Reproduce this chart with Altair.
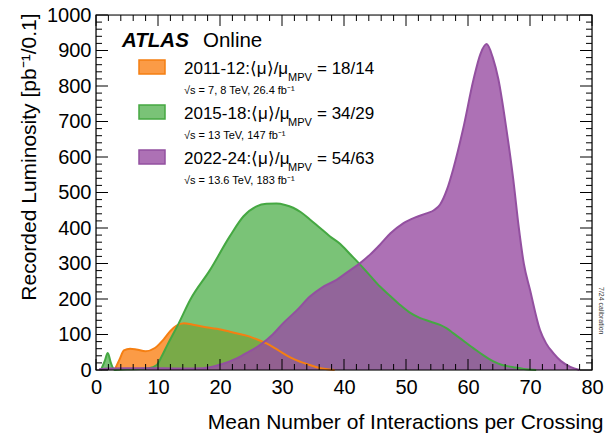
import altair as alt
import pandas as pd

# ---------------- data ----------------
orange_x = [3.0, 3.8, 4.5, 5.5, 6.5, 8.0, 9.5, 11.0, 12.0, 13.0, 14.2, 15.5, 17.3, 19.5, 21.6,
            23.5, 24.8, 26.0, 27.5, 29.0, 30.2, 31.5, 33.0, 34.5, 35.6, 37.0, 38.5]
orange_y = [0, 30, 55, 60, 58, 53, 62, 88, 110, 125, 132, 128, 122, 116, 108,
            100, 94, 86, 75, 60, 47, 34, 23, 14, 8, 3, 0]

green_x = [0.8, 1.4, 1.9, 2.4, 3.0, 5.0, 7.0, 8.5, 9.8, 10.5, 11.5, 12.4, 13.3, 15.2, 18.4, 21.6,
           23.8, 25.9, 27.5, 29.1, 30.5, 31.8, 33.0, 34.5, 36.0, 37.7, 39.4, 41.0, 42.6, 44.2,
           45.8, 47.5, 49.0, 50.5, 52.3, 54.0, 55.5, 56.5, 57.6, 59.2, 60.9, 62.5, 64.1, 65.5,
           67.3, 69.0, 71.0]
green_y = [0, 25, 48, 20, 0, 2, 3, 5, 14, 35, 70, 100, 130, 198, 282, 377,
           433, 461, 468, 469, 465, 457, 445, 424, 402, 377, 355, 326, 297, 266,
           235, 208, 184, 163, 146, 136, 127, 118, 104, 83, 61, 41, 24, 14,
           8, 3, 0]

purple_x = [0.5, 2.0, 5.0, 8.0, 11.0, 14.0, 17.3, 20.0, 22.7, 24.5, 26.5, 28.5, 30.2, 32.5,
            34.5, 36.5, 38.8, 40.5, 42.6, 44.2, 45.8, 47.5, 49.6, 51.5, 53.3, 54.5, 55.5,
            56.6, 57.6, 59.2, 60.9, 62.0, 63.0, 64.0, 64.9, 66.2, 67.3, 68.2, 69.0, 70.0,
            71.6, 72.6, 73.8, 75.0, 76.5, 78.0]
purple_y = [2, 4, 5, 5, 5, 4, 5, 15, 33, 50, 71, 100, 132, 170,
            207, 233, 254, 275, 301, 325, 353, 385, 414, 430, 441, 450, 466,
            508, 565, 678, 819, 890, 918, 880, 819, 678, 537, 400, 300, 226,
            113, 75, 47, 25, 9, 0]

x_major = [0, 10, 20, 30, 40, 50, 60, 70, 80]
x_minor = [v for v in range(0, 81, 2) if v % 10 != 0]
y_major = [0, 100, 200, 300, 400, 500, 600, 700, 800, 900, 1000]
y_minor = [v for v in range(0, 1001, 20) if v % 100 != 0]

legend_main = ["2011-12:⟨μ⟩/μ", "2015-18:⟨μ⟩/μ", "2022-24:⟨μ⟩/μ"]
legend_ratio = ["= 18/14", "= 34/29", "= 54/63"]
legend_sub = ["√s = 7, 8 TeV, 26.4 fb⁻¹", "√s = 13 TeV, 147 fb⁻¹", "√s = 13.6 TeV, 183 fb⁻¹"]

# ---------------- styling ----------------
W, H = 496, 355
FONT = "Liberation Sans"
fills = ["#fa8a26", "#4daf4a", "#984ea3"]
strokes = ["#f57f12", "#45a842", "#9350a0"]
opac = [0.85, 0.75, 0.8]

xs = alt.Scale(domain=[0, 80], nice=False, zero=False)
ys = alt.Scale(domain=[0, 1000], nice=False)

x_axis = alt.Axis(values=x_major, format="d", ticks=False, domain=False, grid=False,
                  labelFont=FONT, labelFontSize=20, labelColor="black", labelPadding=7,
                  labelFlush=False,
                  title="Mean Number of Interactions per Crossing", titleFont=FONT,
                  titleFontSize=21, titleFontWeight="normal", titleColor="black",
                  titleAlign="right", titleBaseline="alphabetic", titleX=507, titleY=58,
                  titleAnchor="end")
y_axis = alt.Axis(values=y_major, format="d", ticks=False, domain=False, grid=False,
                  labelFont=FONT, labelFontSize=20, labelColor="black", labelPadding=5,
                  labelFlush=False,
                  title="Recorded Luminosity [pb⁻¹/0.1]", titleFont=FONT, titleFontSize=21,
                  titleFontWeight="normal", titleColor="black", titleAngle=-90,
                  titleAlign="right", titleBaseline="alphabetic", titleX=-61, titleY=-2,
                  titleAnchor="end")

XE = lambda f: alt.X(f, scale=xs, axis=x_axis)
YE = lambda f: alt.Y(f, scale=ys, axis=y_axis)

series = [(orange_x, orange_y), (green_x, green_y), (purple_x, purple_y)]

layers = []
for i, (sx, sy) in enumerate(series):
    df = pd.DataFrame({"x": sx, "y": sy})
    layers.append(
        alt.Chart(df).mark_area(interpolate="monotone", color=fills[i], fillOpacity=opac[i])
        .encode(x=XE("x:Q"), y=YE("y:Q"))
    )
for i, (sx, sy) in enumerate(series):
    df = pd.DataFrame({"x": sx, "y": sy})
    layers.append(
        alt.Chart(df).mark_line(interpolate="monotone", color=strokes[i], strokeWidth=2)
        .encode(x=XE("x:Q"), y=YE("y:Q"))
    )

# inside ticks on all four sides
def xticks(vals, length):
    df = pd.DataFrame({"t": vals})
    bot = alt.Chart(df).mark_rule(color="black", strokeWidth=1).encode(
        x=XE("t:Q"), y=alt.value(H), y2=alt.value(H - length))
    top = alt.Chart(df).mark_rule(color="black", strokeWidth=1).encode(
        x=XE("t:Q"), y=alt.value(0), y2=alt.value(length))
    return [bot, top]

def yticks(vals, length):
    df = pd.DataFrame({"t": vals})
    left = alt.Chart(df).mark_rule(color="black", strokeWidth=1).encode(
        y=YE("t:Q"), x=alt.value(0), x2=alt.value(length))
    right = alt.Chart(df).mark_rule(color="black", strokeWidth=1).encode(
        y=YE("t:Q"), x=alt.value(W), x2=alt.value(W - length))
    return [left, right]

layers += xticks(x_major, 11) + xticks(x_minor, 6) + yticks(y_major, 12) + yticks(y_minor, 6)

one = pd.DataFrame({"a": [0]})

# frame
layers.append(alt.Chart(one).mark_rect(fillOpacity=0, stroke="black", strokeWidth=1.2).encode(
    x=alt.value(0), x2=alt.value(W), y=alt.value(0), y2=alt.value(H)))

def txt(s, x, y, size, color="black", **kw):
    return alt.Chart(one).mark_text(text=s, align="left", baseline="alphabetic", font=FONT,
                                    fontSize=size, color=color, **kw).encode(
        x=alt.value(x), y=alt.value(y))

layers.append(txt("ATLAS", 26, 32, 20.5, fontWeight="bold", fontStyle="italic"))
layers.append(txt("Online", 107, 32, 20.5))

for i in range(3):
    dy = 45 * i
    layers.append(
        alt.Chart(one).mark_rect(color=fills[i], fillOpacity=opac[i], stroke=strokes[i],
                                 strokeWidth=1.5).encode(
            x=alt.value(43), x2=alt.value(69), y=alt.value(45 + dy), y2=alt.value(59 + dy)))
    layers.append(txt(legend_main[i], 88, 59 + dy, 17))
    layers.append(txt("MPV", 192, 66 + dy, 11))
    layers.append(txt(legend_ratio[i], 221, 59 + dy, 17))
    layers.append(txt(legend_sub[i], 88, 79 + dy, 11))

layers.append(alt.Chart(one).mark_text(text="7/24 calibration", align="left", baseline="middle",
                                       font=FONT, fontSize=7, color="#333333", angle=90).encode(
    x=alt.value(505), y=alt.value(272)))

chart = alt.layer(*layers).properties(
    width=W, height=H,
    autosize=alt.AutoSizeParams(type="none"),
    padding={"left": 96, "top": 15, "right": 13, "bottom": 63},
).configure_view(stroke=None).configure(background="white")

chart.save("out.html", embed_options={"renderer": "svg", "actions": False})
